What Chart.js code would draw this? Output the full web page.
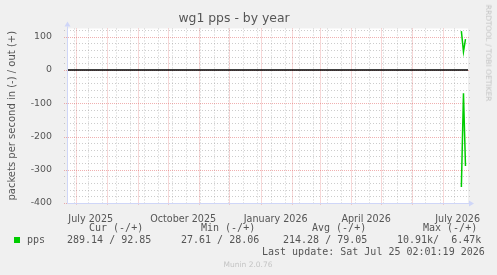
<!DOCTYPE html>
<html>
<head>
<meta charset="utf-8">
<script src="https://cdn.jsdelivr.net/npm/chart.js@4/dist/chart.umd.min.js"></script>
<style>
  html, body { margin: 0; padding: 0; background: #f0f0f0; }
  #wrap { position: relative; width: 497px; height: 275px; overflow: hidden; }
  canvas { position: absolute; left: 0; top: 0; }
  .t { position: absolute; white-space: pre; line-height: 12px; height: 12px; }
  .mono { font-family: "DejaVu Sans Mono", monospace; font-size: 10px; color: #555; }
  .small { font-family: "DejaVu Sans", sans-serif; font-size: 7.5px; color: #c4c4c4; }
  .swatch { position: absolute; left: 14px; top: 237px; width: 6px; height: 6px; background: #00cc00; }
</style>
</head>
<body>
<div id="wrap">
  <canvas id="chart" width="497" height="275"></canvas>
  <div class="t small" style="left:488px; top:53px; transform: translate(-50%, -50%) rotate(90deg);">RRDTOOL / TOBI OETIKER</div>
  <div class="t mono" style="left:89px; top:222px;">Cur (-/+)</div>
  <div class="t mono" style="left:201px; top:222px;">Min (-/+)</div>
  <div class="t mono" style="left:312px; top:222px;">Avg (-/+)</div>
  <div class="t mono" style="left:423px; top:222px;">Max (-/+)</div>
  <div class="swatch"></div>
  <div class="t mono" style="left:27px; top:234px;">pps</div>
  <div class="t mono" style="left:67px; top:234px;">289.14 / 92.85</div>
  <div class="t mono" style="left:181px; top:234px;">27.61 / 28.06</div>
  <div class="t mono" style="left:283px; top:234px;">214.28 / 79.05</div>
  <div class="t mono" style="left:397px; top:234px;">10.91k/  6.47k</div>
  <div class="t mono" style="left:262px; top:246px;">Last update: Sat Jul 25 02:01:19 2026</div>
  <div class="t small" style="left:248px; top:259px; transform: translateX(-50%);">Munin 2.0.76</div>
</div>
<script>
// x values are days counted from 2025-07-01 00:00
const xStart = -8.6;
const xEnd = 390.3;

const monthStarts = [0, 31, 62, 92, 123, 153, 184, 215, 243, 274, 304, 335, 365];
const weekLines = [-2, 12, 26, 40, 54, 68, 82, 96, 110, 124, 138, 152, 166, 180, 194, 208,
  222, 236, 250, 264, 278, 292, 306, 320, 334, 348, 362, 376, 390];
const labelDays = [15, 107, 199, 289, 380];
const labelNames = ["July 2025", "October 2025", "January 2026", "April 2026", "July 2026"];

const yTicks = [100, 0, -100, -200, -300, -400];
const yMinor = [120, 80, 60, 40, 20, -20, -40, -60, -80, -120, -140, -160, -180,
  -220, -240, -260, -280, -320, -340, -360, -380];

// pps samples near the end of the period
const sampleDays = [383.7, 385.8, 387.8];
const ppsOut = [117, 55, 93];
const ppsIn = [352, 70, 289];

const gridPlugin = {
  id: "rrdgrid",
  beforeDatasetsDraw: (chart) => {
    const { ctx, chartArea: a, scales } = chart;
    const x = scales.x, y = scales.y;
    ctx.save();
    ctx.fillStyle = "#ffffff";
    ctx.fillRect(a.left, a.top, a.right - a.left, a.bottom - a.top);
    ctx.lineWidth = 1;
    ctx.setLineDash([1, 2]);

    // minor grid
    ctx.strokeStyle = "rgba(143,143,143,0.45)";
    ctx.beginPath();
    weekLines.forEach((d) => {
      const px = Math.round(x.getPixelForValue(d)) + 0.5;
      if (px < a.left || px > a.right) return;
      ctx.moveTo(px, a.top);
      ctx.lineTo(px, a.bottom + 2);
    });
    yMinor.forEach((v) => {
      const py = Math.round(y.getPixelForValue(v)) + 0.5;
      ctx.moveTo(a.left - 3, py);
      ctx.lineTo(a.right + 2, py);
    });
    ctx.stroke();

    // major grid
    ctx.setLineDash([1, 1]);
    ctx.strokeStyle = "rgba(222,79,79,0.45)";
    ctx.beginPath();
    monthStarts.forEach((d) => {
      const px = Math.round(x.getPixelForValue(d)) + 0.5;
      if (px < a.left || px > a.right) return;
      ctx.moveTo(px, a.top);
      ctx.lineTo(px, a.bottom + 2);
    });
    yTicks.forEach((v) => {
      const py = Math.round(y.getPixelForValue(v)) + 0.5;
      ctx.moveTo(a.left - 3, py);
      ctx.lineTo(a.right + 2, py);
    });
    ctx.stroke();
    ctx.restore();
  },
  afterDatasetsDraw: (chart) => {
    const { ctx, chartArea: a } = chart;
    const l = Math.round(a.left) + 0.5;
    const b = Math.round(a.bottom) + 0.5;
    ctx.save();
    ctx.strokeStyle = "#cfd6f8";
    ctx.fillStyle = "#cfd6f8";
    ctx.lineWidth = 1;
    ctx.beginPath();
    ctx.moveTo(l, b);
    ctx.lineTo(l, a.top - 2);
    ctx.moveTo(l, b);
    ctx.lineTo(a.right + 1, b);
    ctx.stroke();
    // arrows
    ctx.beginPath();
    ctx.moveTo(l - 3, a.top - 2);
    ctx.lineTo(l, a.top - 7);
    ctx.lineTo(l + 3, a.top - 2);
    ctx.closePath();
    ctx.fill();
    ctx.beginPath();
    ctx.moveTo(a.right + 1, b - 3);
    ctx.lineTo(a.right + 6, b);
    ctx.lineTo(a.right + 1, b + 3);
    ctx.closePath();
    ctx.fill();
    ctx.restore();
  },
};

const toPoints = (days, vals, sign) => days.map((d, i) => ({ x: d, y: sign * vals[i] }));

new Chart(document.getElementById("chart"), {
  type: "line",
  data: {
    datasets: [
      {
        label: "zero",
        data: [{ x: xStart, y: 0 }, { x: xEnd, y: 0 }],
        borderColor: "#000000",
        borderWidth: 1.4,
        pointRadius: 0,
      },
      {
        label: "pps out",
        data: toPoints(sampleDays, ppsOut, 1),
        borderColor: "#00cc00",
        borderWidth: 1.5,
        pointRadius: 0,
      },
      {
        label: "pps in",
        data: toPoints(sampleDays, ppsIn, -1),
        borderColor: "#00cc00",
        borderWidth: 1.5,
        pointRadius: 0,
      },
    ],
  },
  options: {
    responsive: false,
    animation: false,
    events: [],
    layout: { padding: { top: 0, right: 29, left: 0, bottom: 0 } },
    plugins: {
      legend: { display: false },
      tooltip: { enabled: false },
      title: {
        display: true,
        text: "wg1 pps - by year",
        color: "#555",
        font: { family: "DejaVu Sans", size: 12.4, weight: "normal" },
        padding: { top: 11, bottom: 2.6 },
      },
    },
    scales: {
      x: {
        type: "linear",
        min: xStart,
        max: xEnd,
        grid: { display: false },
        border: { display: false },
        afterBuildTicks: (s) => {
          s.ticks = labelDays.map((v) => ({ value: v }));
        },
        afterFit: (s) => {
          s.height = 72;
        },
        ticks: {
          autoSkip: false,
          maxRotation: 0,
          padding: 3,
          color: "#555",
          font: { family: "DejaVu Sans", size: 9.6 },
          callback: (v, i) => labelNames[i],
        },
      },
      y: {
        min: -400,
        max: 125,
        grid: { display: false },
        border: { display: false },
        afterBuildTicks: (s) => {
          s.ticks = yTicks.map((v) => ({ value: v }));
        },
        afterFit: (s) => {
          s.width = 67;
        },
        ticks: {
          padding: 7,
          color: "#555",
          font: { family: "DejaVu Sans", size: 9.4 },
          callback: (v) => String(v),
        },
        title: {
          display: true,
          text: "packets per second in (-) / out (+)",
          color: "#555",
          font: { family: "DejaVu Sans", size: 10 },
          padding: { top: 6, bottom: 0 },
        },
      },
    },
  },
  plugins: [gridPlugin],
});
</script>
</body>
</html>
